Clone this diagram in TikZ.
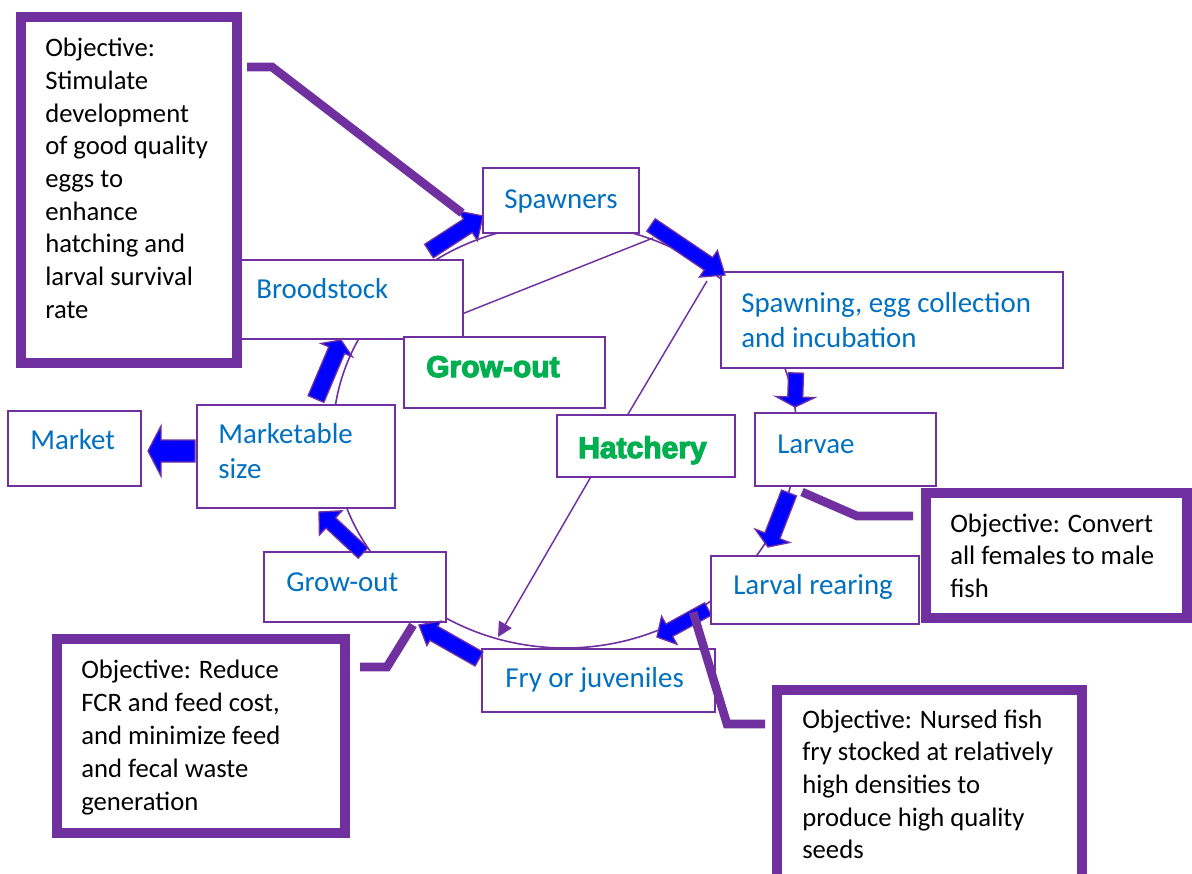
\documentclass[tikz,border=0pt]{standalone}
\usepackage{fontspec}
\setmainfont{Carlito}
\newfontfamily\heavy[BoldFeatures={FakeBold=4}]{Liberation Sans}
\usetikzlibrary{arrows.meta,calc,fit}

\definecolor{vio}{HTML}{7030A0}
\definecolor{blk}{HTML}{0000FF}
\definecolor{txtblue}{HTML}{0070C0}
\definecolor{txtgreen}{HTML}{00B050}

% multi-line text whose baseline is that of the first line
\newcommand\ml[1]{\vtop{\halign{##\hfil\cr#1\crcr}}}

% block arrow: tail, tip, shaft half width, head half width, head length
\newcommand\blockarrow[5]{%
  \path ($(#2)!#5!(#1)$) coordinate (ba-h);
  \draw[blockfill] ($(#1)!#3!90:(#2)$) -- ($(ba-h)!#3!90:(#2)$) -- ($(ba-h)!#4!90:(#2)$)
    -- (#2) -- ($(ba-h)!#4!-90:(#2)$) -- ($(ba-h)!#3!-90:(#2)$) -- ($(#1)!#3!-90:(#2)$) -- cycle;
}

\tikzset{
  box/.style={draw=vio, line width=1.3pt, fill=white, inner sep=0pt, rectangle},
  objbox/.style={draw=vio, line width=7.5pt, fill=white, inner sep=0pt, rectangle},
  note/.style={anchor=base west, inner sep=0pt, text=black, font=\fontsize{20}{24.5}\selectfont},
  stage/.style={anchor=base west, inner sep=0pt, text=txtblue, font=\fontsize{21.7}{26.8}\selectfont},
  phase/.style={anchor=base west, inner sep=0pt, text=txtgreen, font=\heavy\bfseries\fontsize{22.5}{27}\selectfont},
  ring/.style={draw=vio, line width=1.2pt},
  link/.style={draw=vio, line width=1.1pt},
  lead/.style={draw=vio, line width=6.5pt, line join=miter},
  blockfill/.style={fill=blk, draw=vio, line width=1pt, line join=miter},
}

\begin{document}
\begin{tikzpicture}[x=0.75pt, y=-0.75pt]
\useasboundingbox (0,0) rectangle (1192,874);
\clip (0,0) rectangle (1192,874);

% production cycle ring
\draw[ring] (565,436) ellipse [x radius=174pt, y radius=159pt];

% stage boxes
\node[box, fit={(235,260) (463,339)}] (brood) {};
\node[box, fit={(483,168) (639,233)}] (spawners) {};
\node[box, fit={(721,272) (1063,368)}] (spawning) {};
\node[box, fit={(755,413) (936,486)}] (larvae) {};
\node[box, fit={(711,556) (919,624)}] (rearing) {};
\node[box, fit={(482,649) (715,712)}] (fry) {};
\node[box, fit={(264,552) (446,622)}] (growout) {};
\node[box, fit={(197,405) (395,508)}] (marksize) {};
\node[box, fit={(8,411) (141,486)}] (market) {};
\node[box, fit={(404,337) (605,408)}] (phgrow) {};
\node[box, fit={(557,415) (735,477)}] (phhatch) {};

% stage labels
\node[stage] (t-brood) at (256,298) {Broodstock};
\node[stage] (t-spawners) at (504,208) {Spawners};
\node[stage] (t-spawning) at (741,312) {\ml{Spawning, egg collection\cr and incubation}};
\node[stage] (t-larvae) at (777,453) {Larvae};
\node[stage] (t-rearing) at (733,594) {Larval rearing};
\node[stage] (t-fry) at (505,687) {Fry or juveniles};
\node[stage] (t-growout) at (286,591) {Grow-out};
\node[stage] (t-marksize) at (218,443) {\ml{Marketable\cr size}};
\node[stage] (t-market) at (30,449) {Market};
\node[phase] (t-phgrow) at (426,377) {Grow-out};
\node[phase] (t-phhatch) at (578,458) {Hatchery};

% phase links to the ring
\coordinate (ringtop) at (653,238);
\coordinate (ringright) at (707,281);
\coordinate (ringbottom) at (498,637);
\draw[link] ($(brood.north east)!0.67!(brood.south east)$) -- (ringtop);
\draw[link] ($(phhatch.north west)!0.4!(phhatch.north east)$) -- (ringright);
\draw[link, -{Triangle[length=11pt, width=11pt]}] ($(phhatch.south west)!0.19!(phhatch.south east)$) -- (ringbottom);

% flow arrows between stages
\coordinate (a1s) at (429,251);  \coordinate (a1e) at (483,216);
\coordinate (a2s) at (651,225);  \coordinate (a2e) at (725,275);
\coordinate (a3s) at (796,373);  \coordinate (a3e) at (795,407);
\coordinate (a4s) at (789,493);  \coordinate (a4e) at (768,547);
\coordinate (a5s) at (708,609);  \coordinate (a5e) at (657,637);
\coordinate (a6s) at (479,659);  \coordinate (a6e) at (419,625);
\coordinate (a7s) at (363,553);  \coordinate (a7e) at (319,512);
\coordinate (a8s) at (316,399);  \coordinate (a8e) at (341,340);
\coordinate (a9s) at (195,451);  \coordinate (a9e) at (148,451);
\blockarrow{a1s}{a1e}{6pt}{13.1pt}{13.5pt}
\blockarrow{a2s}{a2e}{5.6pt}{12pt}{15pt}
\blockarrow{a3s}{a3e}{5.6pt}{14.6pt}{7.5pt}
\blockarrow{a4s}{a4e}{6pt}{13.9pt}{9pt}
\blockarrow{a5s}{a5e}{5.25pt}{12pt}{10.5pt}
\blockarrow{a6s}{a6e}{6pt}{10.5pt}{12.75pt}
\blockarrow{a7s}{a7e}{5.25pt}{12.4pt}{12pt}
\blockarrow{a8s}{a8e}{6.4pt}{12.75pt}{8.25pt}
\blockarrow{a9s}{a9e}{8.25pt}{18.75pt}{9.75pt}

% objective boxes
\node[objbox, fit={(21,17.5) (237,363)}] (obj1) {};
\node[objbox, fit={(926,492.5) (1187,618)}] (obj2) {};
\node[objbox, fit={(57,639) (345,833)}] (obj3) {};
\node[objbox, fit={(777,690) (1082,890)}] (obj4) {};

\node[note] (t-obj1) at (45,57) {\ml{Objective:\cr Stimulate\cr development\cr of good quality\cr eggs to\cr enhance\cr hatching and\cr larval survival\cr rate}};
\node[note] (t-obj2) at (950,532) {\ml{Objective: Convert\cr all females to male\cr fish}};
\node[note, font=\fontsize{20}{24.75}\selectfont] (t-obj3) at (81,678) {\ml{Objective: Reduce\cr FCR and feed cost,\cr and minimize feed\cr and fecal waste\cr generation}};
\node[note] (t-obj4) at (802,728) {\ml{Objective: Nursed fish\cr fry stocked at relatively\cr high densities to\cr produce high quality\cr seeds}};

% leader lines from the objectives
\coordinate (l1s) at (247,67);  \coordinate (l1k) at (272,67);  \coordinate (l1e) at (462,213);
\coordinate (l2s) at (913,516); \coordinate (l2k) at (857,516); \coordinate (l2e) at (802,492);
\coordinate (l3s) at (360,667); \coordinate (l3k) at (387,667); \coordinate (l3e) at (413,625);
\coordinate (l4s) at (765,724); \coordinate (l4k) at (727,724); \coordinate (l4e) at (693,612);
\draw[lead] (l1s) -- (l1k) -- (l1e);
\draw[lead] (l2s) -- (l2k) -- (l2e);
\draw[lead] (l3s) -- (l3k) -- (l3e);
\draw[lead] (l4s) -- (l4k) -- (l4e);
\end{tikzpicture}
\end{document}
